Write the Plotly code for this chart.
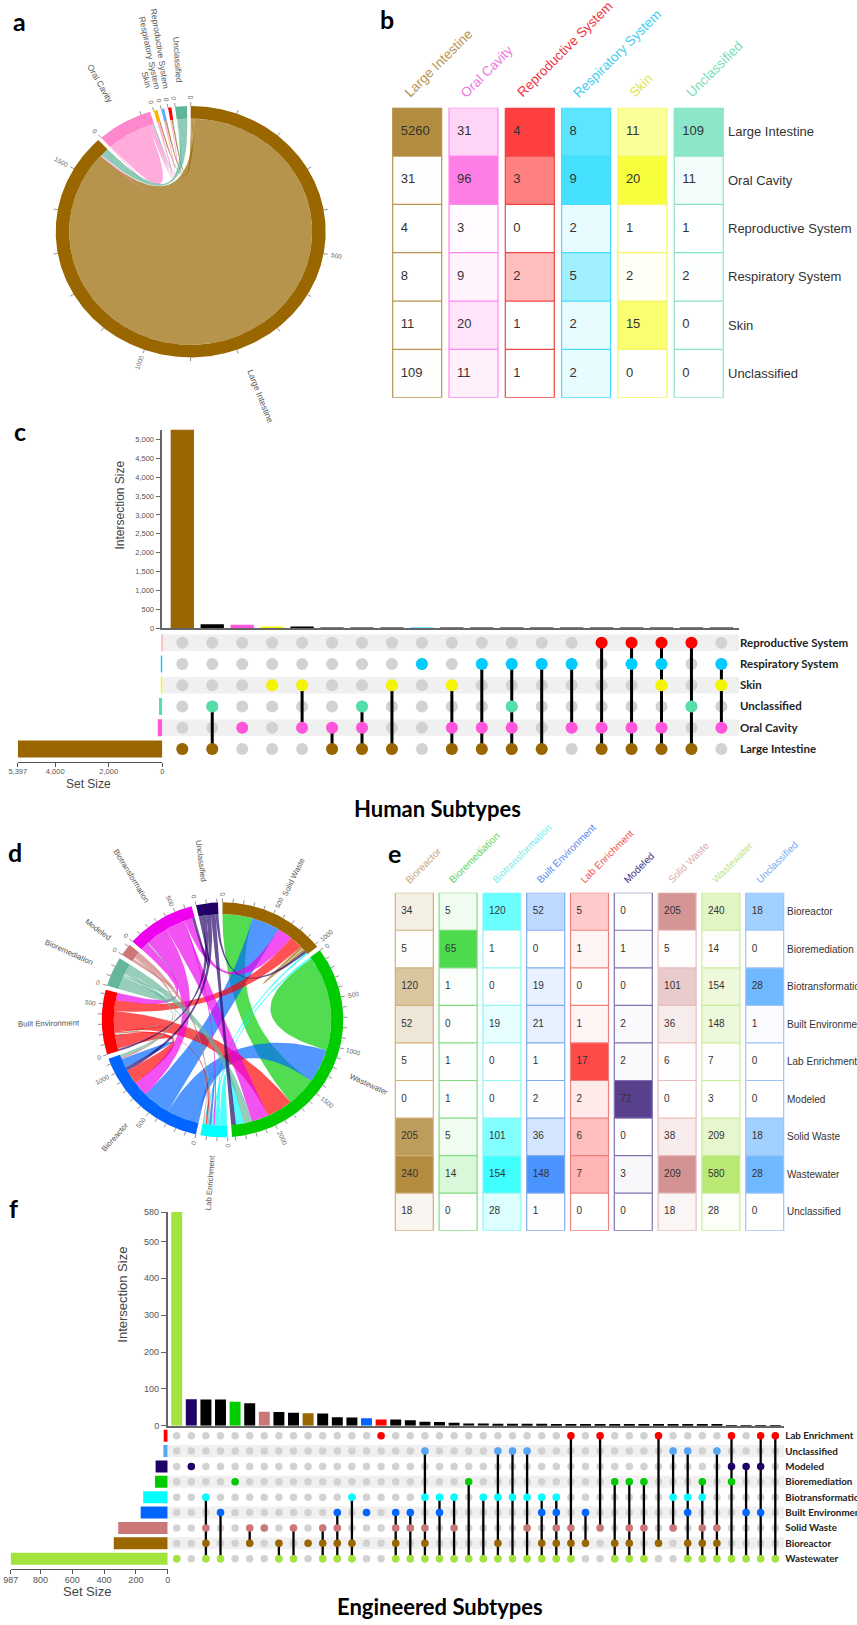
import math
import numpy as np
import plotly.graph_objects as go

W, H = 857, 1625
SANS = "Liberation Sans"
BOLD = "Lato"

# ---------- panel a : chord (sequence of (partner, width) clockwise round each sector)
a_order = ["Large Intestine", "Oral Cavity", "Skin", "Respiratory System", "Reproductive System", "Unclassified"]
a_colors = ["#996600", "#FF88CC", "#FFB300", "#66AAFF", "#FF0000", "#5FB598"]
a_priority = ["Reproductive System", "Respiratory System", "Skin", "Large Intestine", "Oral Cavity", "Unclassified"]
a_large_intestine = [("Reproductive System", 3), ("Respiratory System", 3.5), ("Skin", 3), ("Large Intestine", 1550), ("Oral Cavity", 3), ("Unclassified", 21)]
a_oral_cavity = [("Large Intestine", 3), ("Oral Cavity", 103), ("Skin", 5), ("Respiratory System", 3.5), ("Reproductive System", 3), ("Unclassified", 2.5)]
a_skin = [("Oral Cavity", 5), ("Large Intestine", 3)]
a_respiratory = [("Oral Cavity", 3.5), ("Large Intestine", 3.5)]
a_reproductive = [("Oral Cavity", 3), ("Large Intestine", 3), ("Unclassified", 1)]
a_unclassified = [("Reproductive System", 1), ("Oral Cavity", 3), ("Large Intestine", 21)]

# ---------- panel b : table
b_cols = ["Large Intestine", "Oral Cavity", "Reproductive System", "Respiratory System", "Skin", "Unclassified"]
b_values = [
    [5260, 31, 4, 8, 11, 109],
    [31, 96, 3, 9, 20, 11],
    [4, 3, 0, 2, 1, 1],
    [8, 9, 2, 5, 2, 2],
    [11, 20, 1, 2, 15, 0],
    [109, 11, 1, 2, 0, 0],
]
b_fill = ["#996600", "#FF00CC", "#FF0000", "#00D4FF", "#F5FF00", "#00C88A"]
b_zmin = [0, 0, 1, 1, 1, 0]
b_zmax = [7000, 190, 5, 12, 26, 240]
b_border = ["#B8934F", "#FF88EE", "#EE4444", "#44DDFF", "#F5F566", "#88E5C0"]
b_head = ["#B8934F", "#EE77DD", "#EE3344", "#44CCEE", "#DDE455", "#77DDB5"]

# ---------- panel c : intersections
c_sets = ["Reproductive System", "Respiratory System", "Skin", "Unclassified", "Oral Cavity", "Large Intestine"]
c_set_colors = ["#FF0000", "#00CCFF", "#F5F500", "#55DDAA", "#FF55DD", "#996600"]
c_set_sizes = [9, 26, 49, 123, 170, 5397]
c_sizes = [5260, 109, 96, 31, 25, 20, 15, 11, 5, 5, 4, 3, 3, 2, 2, 2, 1, 1, 1]
c_bar_colors = ["#996600", "#000000", "#FF55DD", "#F5F500", "#000000", "#000000", "#000000", "#000000", "#00CCFF",
                "#000000", "#000000", "#000000", "#000000", "#000000", "#000000", "#000000", "#000000", "#000000", "#000000"]
c_members = [
    ["Large Intestine"], ["Unclassified", "Large Intestine"], ["Oral Cavity"], ["Skin"], ["Skin", "Oral Cavity"],
    ["Oral Cavity", "Large Intestine"], ["Unclassified", "Oral Cavity", "Large Intestine"], ["Skin", "Large Intestine"],
    ["Respiratory System"], ["Skin", "Oral Cavity", "Large Intestine"], ["Respiratory System", "Oral Cavity", "Large Intestine"],
    ["Respiratory System", "Unclassified", "Oral Cavity", "Large Intestine"], ["Respiratory System", "Large Intestine"],
    ["Respiratory System", "Oral Cavity"], ["Reproductive System", "Oral Cavity", "Large Intestine"],
    ["Reproductive System", "Respiratory System", "Oral Cavity", "Large Intestine"],
    ["Reproductive System", "Respiratory System", "Skin", "Oral Cavity", "Large Intestine"],
    ["Reproductive System", "Unclassified", "Large Intestine"], ["Respiratory System", "Skin", "Oral Cavity"],
]

# ---------- panel d : chord
d_order = ["Solid Waste", "Wastewater", "Lab Enrichment", "Bioreactor", "Built Environment", "Bioremediation", "Modeled", "Biotransformation", "Unclassified"]
d_colors = ["#996600", "#00CC00", "#00FFFF", "#0066FF", "#FF0000", "#66B799", "#CC7777", "#EE00EE", "#220066"]
d_priority = ["Solid Waste", "Wastewater", "Lab Enrichment", "Bioreactor", "Built Environment", "Biotransformation", "Modeled", "Bioremediation", "Unclassified"]
SW, WW, LE, BR, BE, BM, MD, BT, UC = d_order[0], d_order[1], d_order[2], d_order[3], d_order[4], d_order[5], d_order[6], d_order[7], d_order[8]
d_solid_waste = [(WW, 320), (BR, 300), (BT, 160), (BE, 140), (SW, 60), (UC, 30), (LE, 20)]
d_wastewater = [(LE, 20), (WW, 1040), (BR, 368), (SW, 320), (BE, 280), (BT, 180), (BM, 90), (LE, 80), (UC, 52)]
d_lab = [(WW, 80), (LE, 50), (BT, 16), (WW, 20), (BR, 28), (BM, 16), (BE, 20), (SW, 20), (MD, 10)]
d_bioreactor = [(LE, 26), (WW, 320), (SW, 300), (BT, 160), (BE, 160), (UC, 40), (BR, 100), (MD, 20), (BM, 30)]
d_built = [(UC, 20), (MD, 10), (BR, 150), (BM, 10), (LE, 14), (BE, 16), (WW, 220), (SW, 120), (BT, 80)]
d_bioremediation = [(BM, 134), (BE, 10), (BT, 10), (LE, 16), (BR, 30), (WW, 90)]
d_modeled = [(MD, 30), (BE, 14), (BR, 20), (LE, 56)]
d_biotransformation = [(BE, 90), (BM, 10), (BR, 240), (WW, 200), (LE, 16), (SW, 80), (UC, 30)]
d_unclassified = [(BT, 30), (BE, 50), (BR, 50), (WW, 50), (SW, 30)]

# ---------- panel e : table
e_cols = ["Bioreactor", "Bioremediation", "Biotransformation", "Built Environment", "Lab Enrichment", "Modeled", "Solid Waste", "Wastewater", "Unclassified"]
e_values = [
    [34, 5, 120, 52, 5, 0, 205, 240, 18],
    [5, 65, 1, 0, 1, 1, 5, 14, 0],
    [120, 1, 0, 19, 0, 0, 101, 154, 28],
    [52, 0, 19, 21, 1, 2, 36, 148, 1],
    [5, 1, 0, 1, 17, 2, 6, 7, 0],
    [0, 1, 0, 2, 2, 72, 0, 3, 0],
    [205, 5, 101, 36, 6, 0, 38, 209, 18],
    [240, 14, 154, 148, 7, 3, 209, 580, 28],
    [18, 0, 28, 1, 0, 0, 18, 28, 0],
]
e_fill = ["#996600", "#00CC00", "#00FFFF", "#0066FF", "#FF0000", "#220066", "#B85050", "#99DD33", "#3399FF"]
e_zmin = [0, 0, 0, 0, 0, 0, 0, 0, 0]
e_zmax = [320, 93, 205, 210, 24, 96, 340, 850, 40]
e_border = ["#D0B078", "#80DD80", "#90F5F5", "#80AAEE", "#F08080", "#8070B0", "#E8BCBC", "#C8EC98", "#99C4F5"]
e_head = ["#C9A874", "#5FD35F", "#70EEEE", "#5588EE", "#EE5555", "#443388", "#DDAAAA", "#BBE488", "#77AAEE"]

# ---------- panel f : intersections
f_sets = ["Lab Enrichment", "Unclassified", "Modeled", "Bioremediation", "Biotransformation", "Built Environment", "Solid Waste", "Bioreactor", "Wastewater"]
f_set_colors = ["#FF0000", "#55A5F5", "#1F0066", "#00CC00", "#00FFFF", "#0066FF", "#CC7777", "#996600", "#A3E33D"]
f_set_sizes = [25, 27, 76, 80, 154, 170, 311, 339, 987]
f_sizes = [580, 72, 71, 71, 65, 61, 38, 37, 35, 34, 33, 23, 22, 20, 17, 17, 15, 11, 10, 8, 6, 6, 5, 5, 5, 5, 4, 4, 4, 3, 3, 3, 3, 2, 2, 2, 2, 2, 1, 1, 1, 1]
f_single_colors = {0: "#A3E33D", 1: "#1F0066", 4: "#00CC00", 6: "#CC7777", 9: "#996600", 13: "#0066FF", 14: "#FF0000"}
LAB, UN, MO, BI, TR, BU, SO, RE, WA = f_sets
f_members = [
    [WA], [MO], [TR, SO, RE, WA], [BU, WA], [BI], [SO, RE], [SO], [RE, WA], [SO, WA], [RE], [SO, RE, WA], [BU, SO, RE, WA],
    [TR, RE, WA], [BU], [LAB], [BU, SO, RE, WA], [BU, SO, WA], [UN, TR, SO, RE, WA],
    [TR, BU, WA], [TR, SO, WA], [BI, WA], [TR, WA], [UN, TR, RE, WA], [UN, TR, WA], [UN, TR, SO, WA], [TR, BU, RE, WA],
    [TR, BU, SO, RE, WA], [LAB, SO, RE, WA], [BU, RE], [LAB, SO], [BI, RE, WA], [BI, SO, RE, WA], [BI, SO, WA], [LAB, RE],
    [UN, TR, SO], [UN, TR, BU, RE, WA], [BI, TR, SO, RE, WA], [UN, SO, RE, WA], [LAB, MO, BI, WA], [MO, BU, WA], [LAB, MO, BU, WA], [LAB, WA],
]

fig = go.Figure()
layout = {}
shapes = []
annots = []
_n = [0]


def axes(xd, yd, xa, ya):
    _n[0] += 1
    n = _n[0]
    base = dict(showgrid=False, zeroline=False, showline=False, showticklabels=False, ticks="", fixedrange=True)
    layout[f"xaxis{n}"] = {**base, "domain": [xd[0] / W, xd[1] / W], "anchor": f"y{n}", **xa}
    layout[f"yaxis{n}"] = {**base, "domain": [1 - yd[1] / H, 1 - yd[0] / H], "anchor": f"x{n}", **ya}
    return f"x{n}", f"y{n}"


def rgba(h, a):
    h = h.lstrip("#")
    return f"rgba({int(h[0:2],16)},{int(h[2:4],16)},{int(h[4:6],16)},{a})"


def pol(t, r):
    return r * np.sin(np.radians(t)), r * np.cos(np.radians(t))


def arc(t0, t1, r):
    n = max(3, int(abs(t1 - t0) * 2) + 2)
    return pol(np.linspace(t0, t1, n), r)


def bez(p, q):
    s = np.linspace(0, 1, 40)
    return (1 - s) ** 2 * p[0] + s ** 2 * q[0], (1 - s) ** 2 * p[1] + s ** 2 * q[1]


def radial_angle(t):
    a = t - 90 if t % 360 < 180 else t + 90
    return (a + 180) % 360 - 180


def chord(order, colors, priority, seqs, cx, cy, rx, ry, gap, alpha, tick_fs, label_fs, label_off):
    kx = min(cx, W - cx) / rx * 0.99
    ky = min(cy, H - cy, 210) / ry * 0.99
    xa, ya = axes((cx - kx * rx, cx + kx * rx), (cy - ky * ry, cy + ky * ry),
                  dict(range=[-kx, kx], visible=False), dict(range=[-ky, ky], visible=False))
    total = sum(v for s in seqs for _, v in s)
    deg = (360 - gap * len(order)) / total
    t = 0.0
    slots, sect = [], []
    for i, name in enumerate(order):
        t0 = t
        for j, (partner, v) in enumerate(seqs[i]):
            slots.append((name, partner, t, t + v * deg))
            t += v * deg
        sect.append((name, colors[i], t0, t))
        t += gap
    rm = (rx + ry) / 2
    ribbons = []
    for i, a in enumerate(order):
        for b in order[i:]:
            sa = [s for s in slots if s[0] == a and s[1] == b]
            sb = [s for s in slots if s[0] == b and s[1] == a]
            if a == b:
                for s in sa:
                    m = (s[2] + s[3]) / 2
                    ribbons.append((a, b, s[2], m, m, s[3]))
            else:
                for u, v in zip(sa, reversed(sb)):
                    ribbons.append((a, b, u[2], u[3], v[2], v[3]))
    ribbons.sort(key=lambda r: max(priority.index(r[0]), priority.index(r[1])))
    for a, b, a0, a1, b0, b1 in ribbons:
        owner = a if priority.index(a) >= priority.index(b) else b
        c = colors[order.index(owner)]
        r = 0.9
        p1 = arc(a0, a1, r)
        p3 = arc(b0, b1, r)
        p2 = bez(pol(a1, r), pol(b0, r))
        p4 = bez(pol(b1, r), pol(a0, r))
        x = np.concatenate([p1[0], p2[0], p3[0], p4[0]])
        y = np.concatenate([p1[1], p2[1], p3[1], p4[1]])
        fig.add_trace(go.Scatter(x=x, y=y, xaxis=xa, yaxis=ya, mode="lines", fill="toself", fillcolor=rgba(c, alpha),
                                 line=dict(width=0), hoverinfo="skip", showlegend=False))
    tx, ty = [], []
    for name, c, t0, t1 in sect:
        o = arc(t0, t1, 1.0)
        i = arc(t1, t0, 0.9)
        fig.add_trace(go.Scatter(x=np.concatenate([o[0], i[0]]), y=np.concatenate([o[1], i[1]]), xaxis=xa, yaxis=ya,
                                 mode="lines", fill="toself", fillcolor=c, line=dict(width=0), hoverinfo="skip", showlegend=False))
        u = 0
        while t0 + u * deg <= t1 + 1e-6:
            ang = t0 + u * deg
            px, py = pol(ang, 1.0)
            qx, qy = pol(ang, 1 + 4 / rm)
            tx += [px, qx, None]
            ty += [py, qy, None]
            if u % 500 == 0:
                txt = str(u)
                d = 7 + len(txt) * tick_fs * 0.28
                lx, ly = pol(ang, 1 + d / rm)
                annots.append(dict(x=lx, y=ly, xref=xa, yref=ya, text=txt, showarrow=False, textangle=radial_angle(ang),
                                   font=dict(family=SANS, size=tick_fs, color="#666666"), xanchor="center", yanchor="middle"))
            u += 100
        mid = (t0 + t1) / 2
        d = label_off + len(name) * label_fs * 0.225
        lx, ly = pol(mid, 1 + d / rm)
        annots.append(dict(x=lx, y=ly, xref=xa, yref=ya, text=name, showarrow=False, textangle=radial_angle(mid),
                           font=dict(family=SANS, size=label_fs, color="#555555"), xanchor="center", yanchor="middle"))
    fig.add_trace(go.Scatter(x=tx, y=ty, xaxis=xa, yaxis=ya, mode="lines", line=dict(color="#777777", width=0.8),
                             hoverinfo="skip", showlegend=False))


def table(cols, rows, values, fill, zmin, zmax, border, head, x0, pitch, cw, top, bot, right, num_fs, lab_fs, head_fs, head_y, num_off, head_off):
    nc, nr = len(cols), len(rows)
    first = x0 + cw / 2
    xr = [(x0 - 4 - first) / pitch, (right - first) / pitch]
    xa, ya = axes((x0 - 4, right), (top, bot), dict(range=xr),
                  dict(range=[nr - 0.5, -0.5], side="right", showticklabels=True, tickmode="array", tickvals=list(range(nr)), ticktext=rows,
                       tickfont=dict(family=SANS, size=lab_fs, color="#333333")))
    half = cw / 2 / pitch
    edges = [r - 0.5 for r in range(nr + 1)]
    for j in range(nc):
        z = [[values[r][j]] for r in range(nr)]
        fig.add_trace(go.Heatmap(x=[j - half, j + half], y=edges, z=z, zmin=zmin[j], zmax=zmax[j], showscale=False,
                                 colorscale=[[0, "#FFFFFF"], [1, fill[j]]], xaxis=xa, yaxis=ya, hoverinfo="skip"))
        lx, ly = [j - half, j + half, j + half, j - half, j - half, None], [-0.5, -0.5, nr - 0.5, nr - 0.5, -0.5, None]
        for r in range(1, nr):
            lx += [j - half, j + half, None]
            ly += [r - 0.5, r - 0.5, None]
        fig.add_trace(go.Scatter(x=lx, y=ly, xaxis=xa, yaxis=ya, mode="lines", line=dict(color=border[j], width=1.2),
                                 hoverinfo="skip", showlegend=False))
        fig.add_trace(go.Scatter(x=[j - half + num_off / pitch] * nr, y=list(range(nr)), xaxis=xa, yaxis=ya, mode="text",
                                 text=[str(values[r][j]) for r in range(nr)], textposition="middle right",
                                 textfont=dict(family=SANS, size=num_fs, color="#333333"), hoverinfo="skip", showlegend=False))
        annots.append(dict(x=(x0 + j * pitch + head_off) / W, y=1 - head_y / H, xref="paper", yref="paper", text=cols[j], showarrow=False,
                           textangle=-45, xanchor="left", yanchor="bottom", font=dict(family=SANS, size=head_fs, color=head[j])))


def upset(sets, set_colors, set_sizes, sizes, bar_colors, members, px):
    first, pitch = px["first"], px["pitch"]
    left, right = px["left"], px["right"]
    xr = [(left - first) / pitch, (right - first) / pitch]
    cols = list(range(len(sizes)))
    xa, ya = axes((left, right), (px["bar_top"], px["bar_bot"]),
                  dict(range=xr, showline=True, linecolor="#666666", linewidth=1.5),
                  dict(range=[0, max(sizes)], showline=True, linecolor="#666666", linewidth=1.5, showticklabels=True,
                       ticks="outside", ticklen=5, tickcolor="#666666", tickmode="array", tickvals=px["yticks"], ticktext=px["yticktext"],
                       tickfont=dict(family=SANS, size=px["tick_fs"], color="#555555")))
    fig.add_trace(go.Bar(x=cols, y=sizes, width=px["bw"], marker=dict(color=bar_colors, line=dict(width=0)), xaxis=xa, yaxis=ya,
                         hoverinfo="skip", showlegend=False))
    row0, rp = px["row0"], px["rowp"]
    top, bot = px["m_top"], px["m_bot"]
    yr = [(bot - row0) / rp, (top - row0) / rp]
    rows = list(range(len(sets)))
    mx, my = axes((left, right), (top, bot), dict(range=xr),
                  dict(range=yr, side="right", showticklabels=True, tickmode="array", tickvals=rows, ticktext=sets,
                       tickfont=dict(family=BOLD, size=px["lab_fs"], color="#222222", weight=700)))
    sx, sy = axes((px["set_left"], left), (top, bot),
                  dict(range=[px["set_max"], 0], showline=True, linecolor="#555555", linewidth=1.2, showticklabels=True, ticks="outside",
                       ticklen=4, tickcolor="#555555", tickmode="array", tickvals=px["xticks"], ticktext=px["xticktext"], ticklabelstandoff=-2,
                       tickfont=dict(family=SANS, size=px["tick_fs"], color="#555555")),
                  dict(range=yr))
    for r in px["stripes"]:
        shapes.append(dict(type="rect", xref=mx, yref=my, x0=xr[0], x1=xr[1], y0=r - px["sh"], y1=r + px["sh"],
                           fillcolor="#F0F0F0", line=dict(width=0), layer="below"))
    fig.add_trace(go.Bar(y=rows, x=set_sizes, orientation="h", width=px["sbw"], marker=dict(color=set_colors, line=dict(width=0)),
                         xaxis=sx, yaxis=sy, hoverinfo="skip", showlegend=False))
    gx = [c for c in cols for _r in rows]
    gy = [r for _c in cols for r in rows]
    fig.add_trace(go.Scatter(x=gx, y=gy, xaxis=mx, yaxis=my, mode="markers", marker=dict(size=px["dot"], color="#D2D2D2"),
                             hoverinfo="skip", showlegend=False))
    lx, ly = [], []
    for c, m in zip(cols, members):
        if len(m) > 1:
            idx = [sets.index(s) for s in m]
            lx += [c, c, None]
            ly += [min(idx), max(idx), None]
    fig.add_trace(go.Scatter(x=lx, y=ly, xaxis=mx, yaxis=my, mode="lines", line=dict(color="#000000", width=px["lw"]),
                             hoverinfo="skip", showlegend=False))
    dx, dy, dc = [], [], []
    for c, m in zip(cols, members):
        for s in m:
            dx.append(c)
            dy.append(sets.index(s))
            dc.append(set_colors[sets.index(s)])
    fig.add_trace(go.Scatter(x=dx, y=dy, xaxis=mx, yaxis=my, mode="markers", marker=dict(size=px["dot"], color=dc),
                             hoverinfo="skip", showlegend=False))


def note(text, x, y, size, family=SANS, color="#000000", angle=0, bold=False):
    annots.append(dict(x=x / W, y=1 - y / H, xref="paper", yref="paper", text=f"<b>{text}</b>" if bold else text, showarrow=False,
                       textangle=angle, xanchor="center", yanchor="middle", font=dict(family=family, size=size, color=color)))


chord(a_order, a_colors, a_priority, [a_large_intestine, a_oral_cavity, a_skin, a_respiratory, a_reproductive, a_unclassified],
      190.7, 231.7, 135, 125.7, 1.63, 0.7, 6.5, 8.5, 25)
chord(d_order, d_colors, d_priority, [d_solid_waste, d_wastewater, d_lab, d_bioreactor, d_built, d_bioremediation, d_modeled, d_biotransformation, d_unclassified],
      222.5, 1019.8, 120.8, 117.5, 2.15, 0.68, 6.5, 7.8, 22)

table(b_cols, b_cols, b_values, b_fill, b_zmin, b_zmax, b_border, b_head, 392.7, 56.3, 49, 107.7, 397.7, 727, 13, 13, 13.5, 103, 8, 6)
table(e_cols, e_cols, e_values, e_fill, e_zmin, e_zmax, e_border, e_head, 395.3, 43.8, 38, 892.7, 1230.7, 786, 10, 10, 10, 888, 6, 5)

upset(c_sets, c_set_colors, c_set_sizes, c_sizes, c_bar_colors, c_members, dict(
    first=182.3, pitch=29.95, left=162.3, right=739, bar_top=429.5, bar_bot=628.3,
    yticks=[0, 500, 1000, 1500, 2000, 2500, 3000, 3500, 4000, 4500, 5000],
    yticktext=["0", "500", "1,000", "1,500", "2,000", "2,500", "3,000", "3,500", "4,000", "4,500", "5,000"],
    bw=0.778, row0=642.7, rowp=21.25, m_top=631, m_bot=762.3, lab_fs=11.5, set_left=17.8, set_max=5397,
    xticks=[5397, 4000, 2000, 0], xticktext=["5,397", "4,000", "2,000", "0"], stripes=[0, 2, 4], sh=0.39, sbw=0.8,
    dot=12, lw=3, tick_fs=7.5))
upset(f_sets, f_set_colors, f_set_sizes, f_sizes, [f_single_colors.get(i, "#000000") for i in range(len(f_sizes))], f_members, dict(
    first=176.7, pitch=14.6, left=167.7, right=784.3, bar_top=1212, bar_bot=1425.7,
    yticks=[0, 100, 200, 300, 400, 500, 580], yticktext=["0", "100", "200", "300", "400", "500", "580"],
    bw=0.75, row0=1435.7, rowp=15.37, m_top=1426.5, m_bot=1569.3, lab_fs=9.8, set_left=10.7, set_max=987,
    xticks=[987, 800, 600, 400, 200, 0], xticktext=["987", "800", "600", "400", "200", "0"], stripes=[1, 3, 5, 7], sh=0.39, sbw=0.78,
    dot=7.5, lw=2.3, tick_fs=9))

note("a", 19, 21, 25, BOLD, bold=True)
note("b", 387, 19, 25, BOLD, bold=True)
note("c", 19.5, 431, 25, BOLD, bold=True)
note("d", 15, 852, 25, BOLD, bold=True)
note("e", 394, 853, 25, BOLD, bold=True)
note("f", 13, 1208, 25, BOLD, bold=True)
note("Intersection Size", 119.5, 505, 12, SANS, "#444444", -90)
note("Set Size", 88.4, 784, 12, SANS, "#444444")
note("Human Subtypes", 437.6, 808.3, 22, BOLD, bold=True)
note("Intersection Size", 121.7, 1295, 13, SANS, "#444444", -90)
note("Set Size", 87, 1591, 13, SANS, "#444444")
note("Engineered Subtypes", 440, 1606.7, 22, BOLD, bold=True)

layout.update(width=W, height=H, autosize=False, margin=dict(l=0, r=0, t=0, b=0, autoexpand=False), paper_bgcolor="#FFFFFF", plot_bgcolor="rgba(0,0,0,0)",
              showlegend=False, shapes=shapes, annotations=annots)
fig.update_layout(**layout)
fig.write_html("out.html", config={"displayModeBar": False}, post_script="document.body.style.margin='0';document.body.style.overflow='hidden';")
